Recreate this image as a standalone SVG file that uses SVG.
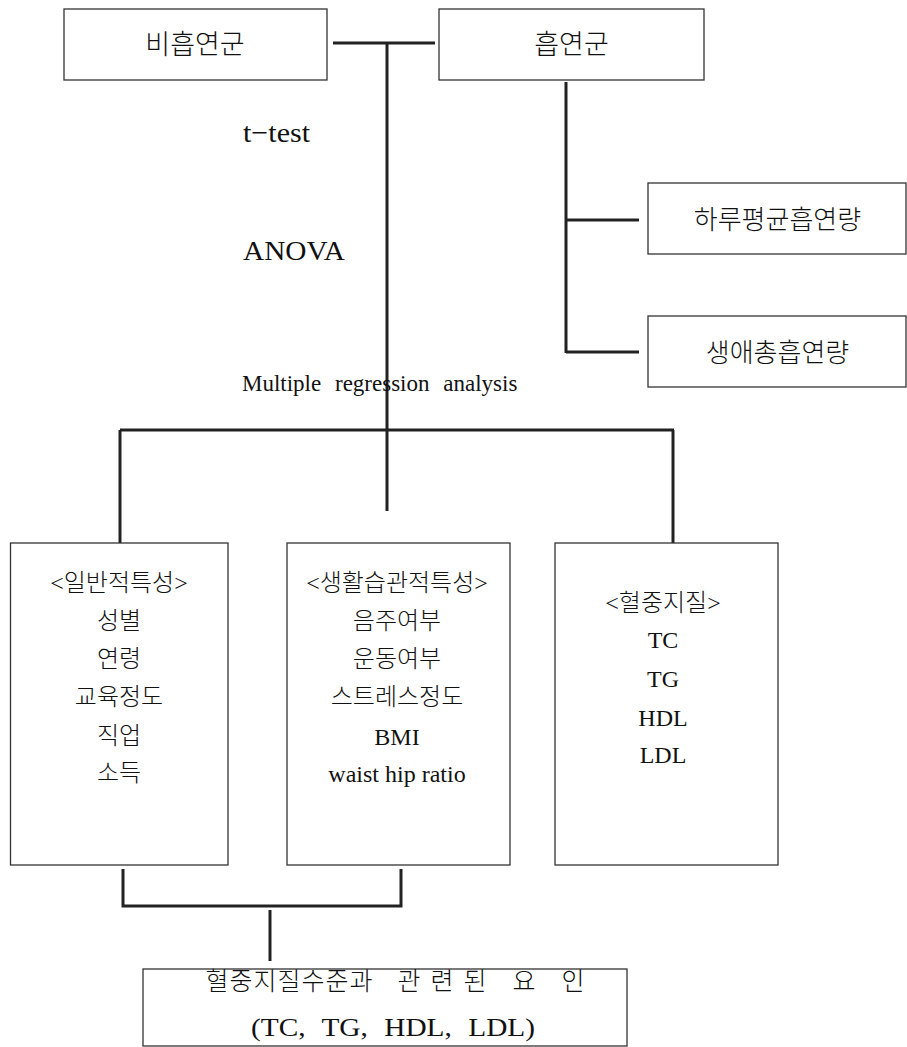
<svg xmlns="http://www.w3.org/2000/svg" width="907" height="1047" viewBox="0 0 907 1047">
<style>
.box{fill:#fff;stroke:#333;stroke-width:1.3}
.ln{stroke:#222;stroke-width:3;fill:none;stroke-linecap:butt}
.ko{font-family:"Liberation Serif","Noto Sans CJK KR",serif;font-weight:300;fill:#111;text-anchor:middle}
.en{font-family:"Liberation Serif","Noto Sans CJK KR",serif;fill:#111}
</style>
<rect width="907" height="1047" fill="#fff"/>
<g id="connectors">
<line class="ln" x1="333" y1="43" x2="435" y2="43"/>
<line class="ln" x1="387" y1="43" x2="387" y2="511"/>
<line class="ln" x1="120" y1="430" x2="674" y2="430"/>
<line class="ln" x1="120" y1="430" x2="120" y2="543"/>
<line class="ln" x1="673" y1="430" x2="673" y2="544"/>
<line class="ln" x1="566" y1="82" x2="566" y2="353"/>
<line class="ln" x1="567" y1="220" x2="639" y2="220"/>
<line class="ln" x1="566" y1="352" x2="639" y2="352"/>
<polyline class="ln" points="123,869 123,906 401,906 401,869"/>
<line class="ln" x1="270" y1="910" x2="270" y2="961"/>
</g>
<g id="labels">
<text class="en" x="243" y="142" font-size="28" textLength="67" lengthAdjust="spacingAndGlyphs">t−test</text>
<text class="en" x="243" y="260" font-size="28" textLength="102" lengthAdjust="spacingAndGlyphs">ANOVA</text>
<text class="en" x="242" y="391" font-size="23" word-spacing="8">Multiple regression analysis</text>
</g>
<g id="nonsmoker">
<rect class="box" x="64" y="9" width="263" height="71"/>
<text class="ko" x="195" y="54" font-size="27">비흡연군</text>
</g>
<g id="smoker">
<rect class="box" x="439" y="9" width="265" height="71"/>
<text class="ko" x="571.5" y="54" font-size="27">흡연군</text>
</g>
<g id="daily">
<rect class="box" x="648" y="183" width="258" height="71"/>
<text class="ko" x="777.5" y="229" font-size="26">하루평균흡연량</text>
</g>
<g id="lifetime">
<rect class="box" x="648" y="316" width="258" height="71"/>
<text class="ko" x="777.5" y="362" font-size="26">생애총흡연량</text>
</g>
<g id="general">
<rect class="box" x="10.5" y="543" width="217.5" height="322"/>
<text class="ko" font-size="24"><tspan x="119" y="591">&lt;일반적특성&gt;</tspan><tspan x="119" y="629">성별</tspan><tspan x="119" y="667">연령</tspan><tspan x="119" y="705">교육정도</tspan><tspan x="119" y="744">직업</tspan><tspan x="119" y="781">소득</tspan></text>
</g>
<g id="lifestyle">
<rect class="box" x="287" y="543" width="223" height="322"/>
<text class="ko" font-size="24"><tspan x="397" y="591">&lt;생활습관적특성&gt;</tspan><tspan x="397" y="629">음주여부</tspan><tspan x="397" y="667">운동여부</tspan><tspan x="397" y="705">스트레스정도</tspan><tspan x="397" y="745">BMI</tspan><tspan x="397" y="782">waist hip ratio</tspan></text>
</g>
<g id="lipids">
<rect class="box" x="555" y="543" width="223" height="322"/>
<text class="ko" font-size="24"><tspan x="663" y="611">&lt;혈중지질&gt;</tspan><tspan x="663" y="648">TC</tspan><tspan x="663" y="687">TG</tspan><tspan x="663" y="726">HDL</tspan><tspan x="663" y="763">LDL</tspan></text>
</g>
<g id="result">
<rect class="box" x="143" y="969" width="484" height="77"/>
<text class="ko" font-size="25" y="990"><tspan x="217 241 265 289 313 337 361">혈중지질수준과</tspan><tspan x="409 442 475">관련된</tspan><tspan x="524 573">요인</tspan></text>
<text class="ko" x="393" y="1036" font-size="26" word-spacing="8" textLength="284" lengthAdjust="spacingAndGlyphs">(TC, TG, HDL, LDL)</text>
</g>
</svg>
